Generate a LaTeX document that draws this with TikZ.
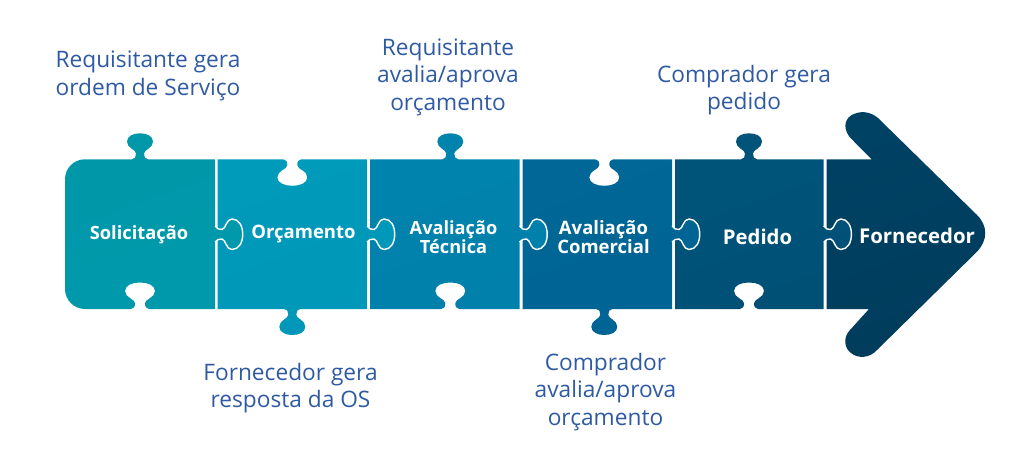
\documentclass[tikz,border=0pt]{standalone}
\usepackage{fontspec}
\setmainfont{Open Sans}
\usepackage{xcolor}
\definecolor{lblue}{HTML}{2F5AA3}
\definecolor{c1a}{HTML}{0098A8}
\definecolor{c1b}{HTML}{0099AC}
\definecolor{c2a}{HTML}{009ABA}
\definecolor{c2b}{HTML}{0097B8}
\definecolor{c3a}{HTML}{0084AE}
\definecolor{c3b}{HTML}{0080AA}
\definecolor{c4a}{HTML}{006796}
\definecolor{c4b}{HTML}{006494}
\definecolor{c5a}{HTML}{00547A}
\definecolor{c5b}{HTML}{005076}
\definecolor{c6a}{HTML}{004264}
\definecolor{c6b}{HTML}{003C5C}
\newcommand{\knob}[6]{-- ({#1-#3*(#6+4)},#2) .. controls ({#1-#3*(#6+1)},#2) and ({#1-#3*#6},{#2+#4*.1}) .. ({#1-#3*#6},{#2+#4*.22}) .. controls ({#1-#3*#6},{#2+#4*.38}) and ({#1-#3*#5},{#2+#4*.42}) .. ({#1-#3*#5},{#2+#4*.68}) .. controls ({#1-#3*#5},{#2+#4*.9}) and ({#1-#3*#5*.5},{#2+#4}) .. (#1,{#2+#4}) .. controls ({#1+#3*#5*.5},{#2+#4}) and ({#1+#3*#5},{#2+#4*.9}) .. ({#1+#3*#5},{#2+#4*.68}) .. controls ({#1+#3*#5},{#2+#4*.42}) and ({#1+#3*#6},{#2+#4*.38}) .. ({#1+#3*#6},{#2+#4*.22}) .. controls ({#1+#3*#6},{#2+#4*.1}) and ({#1+#3*(#6+1)},#2) .. ({#1+#3*(#6+4)},#2)}
\newcommand{\sidetab}[1]{({#1},226) .. controls ({#1+2},228.5) and ({#1+4},230) .. ({#1+7},229.5) .. controls ({#1+11},229) and ({#1+11},219) .. ({#1+17},219) .. controls ({#1+24},219) and ({#1+27.7},226) .. ({#1+27.7},234.3) .. controls ({#1+27.7},242.5) and ({#1+24},249.5) .. ({#1+17},249.5) .. controls ({#1+11},249.5) and ({#1+11},240) .. ({#1+7},239) .. controls ({#1+4},238.5) and ({#1+2},240) .. ({#1},242)}
\tikzset{
	piece/.style={left color=#1a, right color=#1b, shading angle=20},
	tabline/.style={draw=white, line width=1.4pt},
	inner label/.style={text=white, align=center, inner sep=0pt, font=\fontsize{#1}{19.5}\selectfont\bfseries},
	outer label/.style={text=lblue, align=center, inner sep=0pt, font=\fontsize{22.7}{27.5}\selectfont},
}
\begin{document}
\begin{tikzpicture}[x=1pt, y=-1pt]
	\useasboundingbox (0,0) rectangle (1024,449);
	\shade[piece=c6] (826.7,159.3) -- (871.7,159.3) -- (851,138.5) .. controls (843,130) and (844,120) .. (851,115.5) .. controls (859,110.5) and (870,111) .. (878,118) -- (977,215) .. controls (988,226) and (988,240) .. (977,251.7) -- (877,350) .. controls (870,358) and (858,359) .. (851,353) .. controls (844,348) and (843,337) .. (850,330) -- (869,309) -- (826.7,309) -- cycle;
	\shade[piece=c5] (675,159.3) \knob{749}{159.3}{1}{-26}{13}{4} -- (823.7,159.3) -- \sidetab{823.7} -- (823.7,309) \knob{749}{309}{-1}{-26.5}{15}{5} -- (675,309) -- cycle;
	\draw[tabline] \sidetab{823.7};
	\shade[piece=c4] (522.7,159.3) \knob{604.3}{159.3}{1}{26.5}{15}{5} -- (672,159.3) -- \sidetab{672} -- (672,309) \knob{604.3}{309}{-1}{26}{13}{4} -- (522.7,309) -- cycle;
	\draw[tabline] \sidetab{672};
	\shade[piece=c3] (370,159.3) \knob{450.3}{159.3}{1}{-26}{13}{4} -- (519.5,159.3) -- \sidetab{519.5} -- (519.5,309) \knob{450.3}{309}{-1}{-26.5}{15}{5} -- (370,309) -- cycle;
	\draw[tabline] \sidetab{519.5};
	\shade[piece=c2] (217.7,159.3) \knob{292.3}{159.3}{1}{26.5}{15}{5} -- (367,159.3) -- \sidetab{367} -- (367,309) \knob{292.3}{309}{-1}{26}{13}{4} -- (217.7,309) -- cycle;
	\draw[tabline] \sidetab{367};
	\shade[piece=c1] (85,159.3) \knob{140}{159.3}{1}{-26}{13}{4} -- (215,159.3) -- \sidetab{215} -- (215,309) \knob{140}{309}{-1}{-26.5}{15}{5} -- (85,309) .. controls (74,309) and (65,300) .. (65,289) -- (65,179.3) .. controls (65,168) and (74,159.3) .. (85,159.3) -- cycle;
	\draw[tabline] \sidetab{215};
	\node[inner label=18.3] (p1) at (139,235) {Solicitação};
	\node[inner label=18.5] (p2) at (303.5,234) {Orçamento};
	\node[inner label=18.2] (p3) at (453.5,237) {Avaliação\\Técnica};
	\node[inner label=18.5] (p4) at (603.5,237) {Avaliação\\Comercial};
	\node[inner label=20.3] (p5) at (757.5,237) {Pedido};
	\node[inner label=20.4] (p6) at (917,236) {Fornecedor};
	\node[outer label] (t1) at (148,76) {Requisitante gera\\ordem de Serviço};
	\node[outer label] (t2) at (290.5,388) {Fornecedor gera\\resposta da OS};
	\node[outer label] (t3) at (448,77) {Requisitante\\avalia/aprova\\orçamento};
	\node[outer label] (t4) at (605.5,392) {Comprador\\avalia/aprova\\orçamento};
	\node[outer label] (t5) at (744,90) {Comprador gera\\pedido};
\end{tikzpicture}
\end{document}
